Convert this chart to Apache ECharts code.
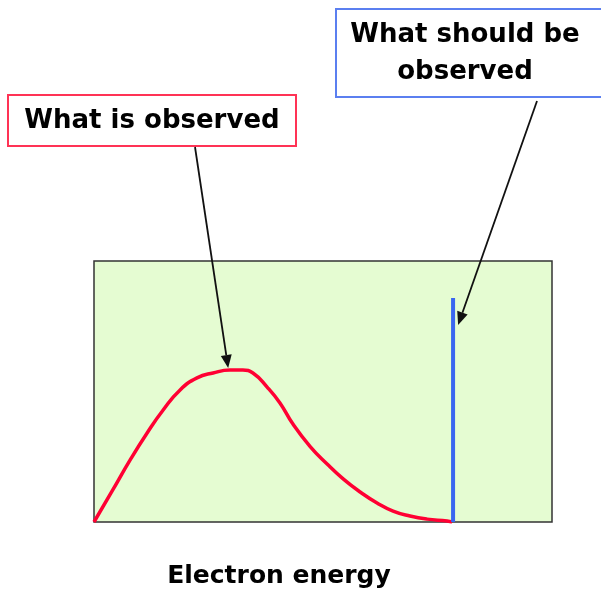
<!DOCTYPE html>
<html>
<head>
<meta charset="utf-8">
<script src="https://cdn.jsdelivr.net/npm/echarts@6/dist/echarts.min.js"></script>
<style>
  html, body { margin: 0; padding: 0; background: #fff; }
  #chart { width: 601px; height: 597px; }
</style>
</head>
<body>
<div id="chart"></div>
<script>
// Observed spectrum (energy, counts), axes 0..100
const observedX = [0, 4.1, 7.9, 11.6, 15.1, 18.8, 22.5, 26.0, 29.7, 32.5, 34.7, 37.8, 40.6, 43.4, 47.2, 50.9, 54.4, 58.1, 61.8, 65.3, 69.0, 72.7, 77.1, 78.2];
const observedY = [0, 12.3, 23.8, 34.1, 42.9, 50.6, 55.2, 57.1, 58.2, 58.2, 57.1, 51.7, 45.6, 37.6, 28.9, 22.2, 16.5, 11.5, 7.3, 4.2, 2.3, 1.1, 0.4, 0];
// Expected: single energy line
const expectedX = [78.4, 78.4];
const expectedY = [0, 85.8];

const axisTitle = 'Electron energy';
const noteObserved = 'What is observed';
const noteExpected = 'What should be\nobserved';

const font = 'DejaVu Sans';
const pair = (xs, ys) => xs.map((x, i) => [x, ys[i]]);

const chart = echarts.init(document.getElementById('chart'), null, { renderer: 'canvas' });

chart.setOption({
	animation: false,
	grid: {
		left: 94, top: 261, width: 458, height: 261,
		show: true,
		backgroundColor: '#e5fcd2',
		borderColor: '#333',
		borderWidth: 1.5
	},
	xAxis: {
		type: 'value', min: 0, max: 100,
		axisLine: { show: false }, axisTick: { show: false },
		axisLabel: { show: false }, splitLine: { show: false },
		name: axisTitle, nameLocation: 'middle', nameGap: 42,
		nameTextStyle: { fontFamily: font, fontWeight: 'bold', fontSize: 25, color: '#000', padding: [0, 88, 0, 0] }
	},
	yAxis: {
		type: 'value', min: 0, max: 100,
		axisLine: { show: false }, axisTick: { show: false },
		axisLabel: { show: false }, splitLine: { show: false }
	},
	series: [
		{
			type: 'line', data: pair(observedX, observedY), smooth: true,
			showSymbol: false, lineStyle: { color: '#ff0033', width: 3.5 }
		},
		{
			type: 'line', data: pair(expectedX, expectedY),
			showSymbol: false, lineStyle: { color: '#3a66f0', width: 4, cap: 'butt' }
		}
	]
});

// arrow from a pixel point on a note box to a data point on the chart
const arrow = (from, toData) => {
	const to = chart.convertToPixel({ gridIndex: 0 }, toData);
	const ang = Math.atan2(to[1] - from[1], to[0] - from[0]);
	const len = 13, half = 5.5;
	const bx = to[0] - len * Math.cos(ang), by = to[1] - len * Math.sin(ang);
	const nx = -Math.sin(ang) * half, ny = Math.cos(ang) * half;
	return [
		{ type: 'line', shape: { x1: from[0], y1: from[1], x2: bx, y2: by }, style: { stroke: '#111', lineWidth: 1.8 } },
		{ type: 'polygon', shape: { points: [to, [bx + nx, by + ny], [bx - nx, by - ny]] }, style: { fill: '#111' } }
	];
};

const note = (x, y, w, h, border, text, tx, ty) => ({
	type: 'group',
	children: [
		{ type: 'rect', shape: { x, y, width: w, height: h }, style: { fill: '#fff', stroke: border, lineWidth: 2 } },
		{
			type: 'text', x: tx, y: ty,
			style: { text, fontFamily: font, fontWeight: 'bold', fontSize: 26, fill: '#000', align: 'center', verticalAlign: 'middle', lineHeight: 37 }
		}
	]
});

chart.setOption({
	graphic: [
		note(8, 95, 288, 51, '#ff3355', noteObserved, 152, 121),
		note(336, 9, 270, 88, '#5b7ff0', noteExpected, 465, 54),
		...arrow([195, 147], [29.3, 59]),
		...arrow([537, 101], [79.5, 75.5])
	]
});
</script>
</body>
</html>
